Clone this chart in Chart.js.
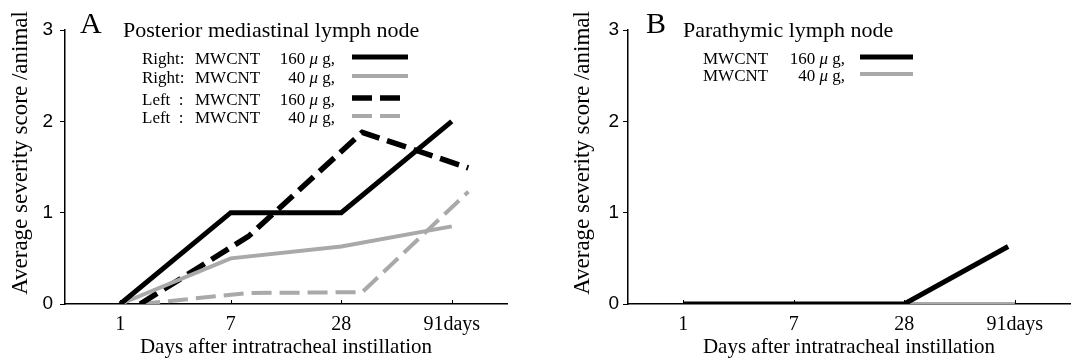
<!DOCTYPE html>
<html>
<head>
<meta charset="utf-8">
<script src="https://cdn.jsdelivr.net/npm/chart.js@4.4.0/dist/chart.umd.min.js"></script>
<style>
body { margin: 0; background: #fff; }
#wrap { display: flex; width: 1079px; height: 362px; }
.panel { position: relative; height: 362px; }
</style>
</head>
<body>
<div id="wrap">
  <div class="panel" style="width:540px"><canvas id="chartA"></canvas></div>
  <div class="panel" style="width:539px"><canvas id="chartB"></canvas></div>
</div>
<script>
// x positions are category slots (0 = day 1 ... 3 = day 91)
var dayLabels = ["1", "7", "28", "91days"];
var dayPos = [0, 1, 2, 3];
var leftPos = [0.18, 1.16, 2.19, 3.15];
var paraHighPos = [0, 1, 2, 2.94];

// panel A: posterior mediastinal lymph node
var rightHigh = [0, 1.0, 1.0, 2.0];
var rightLow = [0, 0.5, 0.63, 0.85];
var leftHigh = [0, 0.74, 1.88, 1.49];
var leftLow = [0, 0.12, 0.13, 1.23];

// panel B: parathymic lymph node
var paraHigh = [0, 0, 0, 0.63];
var paraLow = [0, 0, 0, 0];

var legendSideA = ["Right:", "Right:", "Left  :", "Left  :"];
var legendDose = ["160", "40", "160", "40"];
var yTitle = "Average severity score /animal";

var serif = '"Liberation Serif", "DejaVu Serif", serif';
var black = "#000";
var grey = "#a9a9a9";

function toPoints(xs, ys) {
  return ys.map(function(v, i) { return { x: xs[i], y: v }; });
}

function lineSet(label, xs, ys, color, width, dash) {
  return {
    label: label,
    data: toPoints(xs, ys),
    borderColor: color,
    borderWidth: width,
    borderDash: dash,
    borderCapStyle: "butt",
    borderJoinStyle: "miter",
    pointRadius: 0,
    tension: 0,
    fill: false
  };
}

var panelText = {
  id: "panelText",
  afterDraw: function(chart, args, opts) {
    var ctx = chart.ctx;
    ctx.save();
    ctx.fillStyle = black;
    ctx.textBaseline = "alphabetic";
    ctx.font = "30px " + serif;
    ctx.fillText(opts.letter, opts.letterX, 33);
    ctx.font = "22px " + serif;
    ctx.fillText(opts.heading, opts.headingX, 37);

    // rotated y axis title
    ctx.save();
    ctx.translate(opts.yTitleX, 153);
    ctx.rotate(-Math.PI / 2);
    ctx.textAlign = "center";
    ctx.textBaseline = "middle";
    ctx.font = "23px " + serif;
    ctx.fillText(yTitle, 0, 0);
    ctx.restore();

    // small inward tick marks on the x axis
    var xs = chart.scales.x;
    var yb = chart.chartArea.bottom;
    ctx.strokeStyle = black;
    ctx.lineWidth = 1;
    dayPos.forEach(function(v) {
      var px = Math.round(xs.getPixelForValue(v)) + 0.5;
      ctx.beginPath();
      ctx.moveTo(px, yb);
      ctx.lineTo(px, yb - 4);
      ctx.stroke();
    });

    chart.data.datasets.forEach(function(ds, i) {
      var cy = opts.rowY[i];
      var base = cy + 6;
      ctx.fillStyle = black;
      ctx.font = "17px " + serif;
      ctx.textAlign = "left";
      if (opts.side) ctx.fillText(opts.side[i], opts.sideX, base);
      ctx.fillText("MWCNT", opts.nameX, base);
      // dose text, right aligned: "160 μ g,"
      var tail = " g,";
      var mu = "\u03bc";
      ctx.textAlign = "right";
      ctx.fillText(tail, opts.doseRight, base);
      var wTail = ctx.measureText(tail).width;
      ctx.font = "italic 17px " + serif;
      ctx.fillText(mu, opts.doseRight - wTail, base);
      var wMu = ctx.measureText(mu).width;
      ctx.font = "17px " + serif;
      ctx.fillText(opts.dose[i] + " ", opts.doseRight - wTail - wMu, base);

      ctx.beginPath();
      ctx.strokeStyle = ds.borderColor;
      ctx.lineWidth = ds.borderWidth;
      ctx.setLineDash(ds.borderDash || []);
      ctx.moveTo(opts.sampleX[0], cy - 1);
      ctx.lineTo(opts.sampleX[1], cy - 1);
      ctx.stroke();
      ctx.setLineDash([]);
    });
    ctx.restore();
  }
};

function makeOptions(axisW, tickPad, rightPad, textOpts) {
  return {
    responsive: false,
    animation: false,
    layout: { padding: { top: 30, right: rightPad, left: 0, bottom: 0 } },
    plugins: {
      legend: { display: false },
      tooltip: { enabled: false },
      panelText: textOpts
    },
    scales: {
      x: {
        type: "linear",
        min: -0.5,
        max: 3.5,
        afterBuildTicks: function(s) {
          s.ticks = dayPos.map(function(v) { return { value: v }; });
        },
        afterFit: function(s) { s.height = 58; },
        grid: { display: false },
        border: { color: black, width: 1.5 },
        ticks: {
          autoSkip: false,
          maxRotation: 0,
          padding: 1,
          color: black,
          font: { family: serif, size: 20 },
          callback: function(v, i) { return dayLabels[i]; }
        },
        title: {
          display: true,
          text: "Days after intratracheal instillation",
          color: black,
          font: { family: serif, size: 21 },
          padding: { top: 0, bottom: 2 }
        }
      },
      y: {
        min: 0,
        max: 3,
        afterFit: function(s) { s.width = axisW; },
        grid: { drawOnChartArea: false, drawTicks: true, tickLength: 5, color: black, lineWidth: 1 },
        border: { color: black, width: 1.5 },
        ticks: {
          stepSize: 1,
          padding: tickPad,
          color: black,
          font: { family: '"Liberation Sans Narrow", "Liberation Sans", sans-serif', size: 19 }
        }
      }
    }
  };
}

var canvasA = document.getElementById("chartA");
canvasA.width = 540; canvasA.height = 362;
new Chart(canvasA, {
  type: "line",
  data: {
    datasets: [
      lineSet("Right 160", dayPos, rightHigh, black, 5, []),
      lineSet("Right 40", dayPos, rightLow, grey, 4, []),
      lineSet("Left 160", leftPos, leftHigh, black, 5.5, [20, 8]),
      lineSet("Left 40", leftPos, leftLow, grey, 4, [20, 8])
    ]
  },
  options: makeOptions(65, 7, 33, {
    letter: "A", letterX: 80,
    heading: "Posterior mediastinal lymph node", headingX: 123,
    yTitleX: 21,
    side: legendSideA, sideX: 142, nameX: 195, doseRight: 335,
    dose: legendDose, rowY: [58, 77, 99, 117], sampleX: [352, 408]
  }),
  plugins: [panelText]
});

var canvasB = document.getElementById("chartB");
canvasB.width = 539; canvasB.height = 362;
new Chart(canvasB, {
  type: "line",
  data: {
    datasets: [
      lineSet("MWCNT 160", paraHighPos, paraHigh, black, 5, []),
      lineSet("MWCNT 40", dayPos, paraLow, grey, 4, [])
    ]
  },
  options: makeOptions(88, 4, 9, {
    letter: "B", letterX: 106,
    heading: "Parathymic lymph node", headingX: 143,
    yTitleX: 43,
    side: null, sideX: 0, nameX: 163, doseRight: 305,
    dose: legendDose, rowY: [58, 75], sampleX: [320, 373]
  }),
  plugins: [panelText]
});
</script>
</body>
</html>
